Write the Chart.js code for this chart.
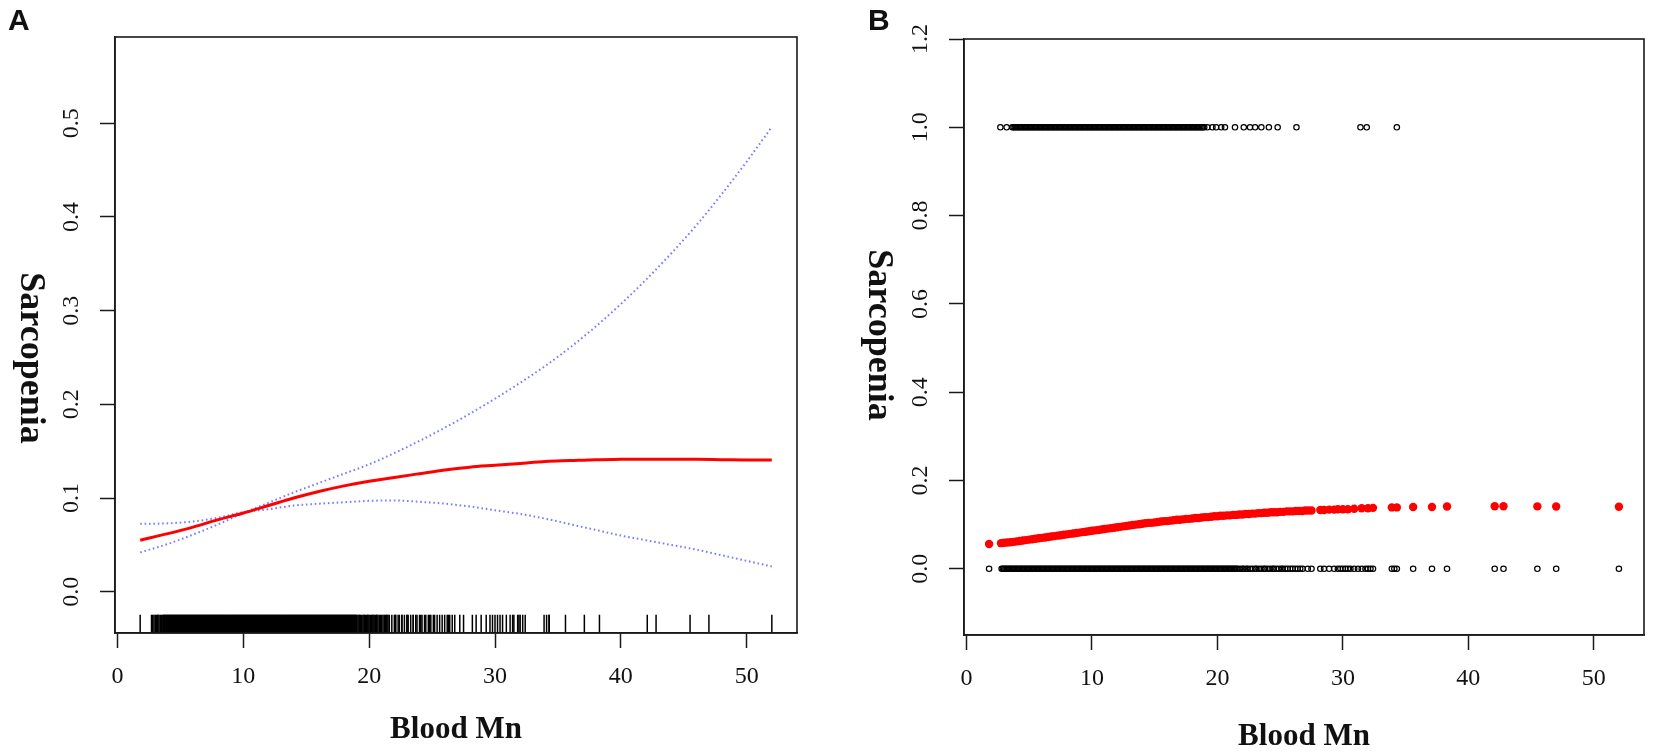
<!DOCTYPE html>
<html><head><meta charset="utf-8">
<script src="https://cdn.jsdelivr.net/npm/chart.js@4.4.1/dist/chart.umd.min.js"></script>
<style>
html,body{margin:0;padding:0;background:#fff;width:1653px;height:752px;overflow:hidden}
.p{position:absolute;top:0}
#wa{left:0;width:826px;height:752px}
#wb{left:826px;width:827px;height:752px}
</style>
</head><body>
<div class="p" id="wa"><canvas id="ca"></canvas></div>
<div class="p" id="wb"><canvas id="cb"></canvas></div>
<script>
// ---------- data ----------
const xTickValues = [0, 10, 20, 30, 40, 50];
const yTicksA = [0.0, 0.1, 0.2, 0.3, 0.4, 0.5];
const yTicksB = [0.0, 0.2, 0.4, 0.6, 0.8, 1.0, 1.2];

// Panel A: smooth curve fit with 95% CI
const curveX = [1.8, 4, 6, 8, 10, 12, 14, 16, 18, 20, 22, 24, 26, 28, 30, 32, 34, 36, 38, 40, 42, 44, 46, 48, 50, 52];
const fitY   = [0.055, 0.062, 0.069, 0.077, 0.084, 0.092, 0.100, 0.107, 0.113, 0.118, 0.122, 0.126, 0.130, 0.133, 0.135, 0.137, 0.139, 0.140, 0.141, 0.1413, 0.1415, 0.1415, 0.1413, 0.141, 0.1407, 0.1405];
const upperY = [0.042, 0.051, 0.061, 0.072, 0.084, 0.095, 0.106, 0.116, 0.126, 0.136, 0.148, 0.161, 0.175, 0.190, 0.206, 0.223, 0.241, 0.261, 0.283, 0.307, 0.333, 0.361, 0.391, 0.424, 0.459, 0.496];
const lowerY = [0.0725, 0.073, 0.075, 0.079, 0.085, 0.088, 0.092, 0.094, 0.0955, 0.097, 0.0975, 0.096, 0.094, 0.091, 0.087, 0.083, 0.078, 0.072, 0.066, 0.060, 0.055, 0.050, 0.045, 0.039, 0.033, 0.027];

// Observations of Blood Mn by outcome (0 = no sarcopenia, 1 = sarcopenia)
const mnOutcome0 = [1.8,
 2.8,2.9,
 3.0,3.1,3.2,3.3,3.4,3.5,3.6,3.7,3.8,3.9,
 4.0,4.1,4.2,4.3,4.4,4.5,4.6,4.7,4.8,4.9,
 5.0,5.1,5.2,5.3,5.4,5.5,5.6,5.7,5.8,5.9,
 6.0,6.1,6.2,6.3,6.4,6.5,6.6,6.7,6.8,6.9,
 7.0,7.1,7.2,7.3,7.4,7.5,7.6,7.7,7.8,7.9,
 8.0,8.1,8.2,8.3,8.4,8.5,8.6,8.7,8.8,8.9,
 9.0,9.1,9.2,9.3,9.4,9.5,9.6,9.7,9.8,9.9,
 10.0,10.1,10.2,10.3,10.4,10.5,10.6,10.7,10.8,10.9,
 11.0,11.1,11.2,11.3,11.4,11.5,11.6,11.7,11.8,11.9,
 12.0,12.1,12.2,12.3,12.4,12.5,12.6,12.7,12.8,12.9,
 13.0,13.1,13.2,13.3,13.4,13.5,13.6,13.7,13.8,13.9,
 14.0,14.1,14.2,14.3,14.4,14.5,14.6,14.7,14.8,14.9,
 15.0,15.1,15.2,15.3,15.4,15.5,15.6,15.7,15.8,15.9,
 16.0,16.1,16.2,16.3,16.4,16.5,16.6,16.7,16.8,16.9,
 17.0,17.1,17.2,17.3,17.4,17.5,17.6,17.7,17.8,17.9,
 18.0,18.1,18.2,18.3,18.4,18.5,18.6,18.7,18.8,18.9,
 19.0,19.1,19.2,19.3,19.4,19.5,19.6,19.7,19.8,19.9,
 20.0,20.1,20.2,20.3,20.4,20.5,20.6,20.7,20.8,20.9,
 21.0,21.1,21.2,21.3,21.4,21.5,21.6,
 21.8,22.0,22.1,22.3,22.4,22.6,22.8,23.0,23.1,23.3,23.5,23.7,23.8,24.0,24.2,24.4,24.5,24.7,24.9,
 25.1,25.2,25.4,25.6,25.8,26.0,26.2,26.4,26.6,
 26.8,27.2,27.5,28.2,28.5,28.9,29.3,29.6,29.8,30.0,30.2,30.4,30.6,30.9,31.2,31.5,31.8,32.0,32.2,32.4,
 33.9,34.1,34.3,35.6,37.1,38.3,42.1,42.8,45.5,47.0,52.0];
const mnOutcome1 = [2.7,3.2,
 3.65,3.75,3.85,3.95,
 4.05,4.15,4.25,4.35,4.45,4.55,4.65,4.75,4.85,4.95,
 5.05,5.15,5.25,5.35,5.45,5.55,5.65,5.75,5.85,5.95,
 6.05,6.15,6.25,6.35,6.45,6.55,6.65,6.75,6.85,6.95,
 7.05,7.15,7.25,7.35,7.45,7.55,7.65,7.75,7.85,7.95,
 8.05,8.15,8.25,8.35,8.45,8.55,8.65,8.75,8.85,8.95,
 9.05,9.15,9.25,9.35,9.45,9.55,9.65,9.75,9.85,9.95,
 10.05,10.15,10.25,10.35,10.45,10.55,10.65,10.75,10.85,10.95,
 11.05,11.15,11.25,11.35,11.45,11.55,11.65,11.75,11.85,11.95,
 12.05,12.15,12.25,12.35,12.45,12.55,12.65,12.75,12.85,12.95,
 13.05,13.15,13.25,13.35,13.45,13.55,13.65,13.75,13.85,13.95,
 14.05,14.15,14.25,14.35,14.45,14.55,14.65,14.75,14.85,14.95,
 15.05,15.15,15.25,15.35,15.45,15.55,15.65,15.75,15.85,15.95,
 16.05,16.15,16.25,16.35,16.45,16.55,16.65,16.75,16.85,16.95,
 17.05,17.15,17.25,17.35,17.45,17.55,17.65,17.75,17.85,17.95,
 18.05,18.15,18.25,18.35,18.45,18.55,18.65,18.75,18.85,18.95,
 19.2,19.6,19.9,20.3,20.6,21.4,22.1,22.6,23.0,23.5,24.1,24.8,26.3,31.4,31.9,34.3];

// Panel B: predicted probability at observed Blood Mn values
const predX = [1.8,2.75,
 3.0,3.25,3.5,3.75,4.0,4.25,4.5,4.75,5.0,5.25,5.5,5.75,6.0,6.25,6.5,6.75,7.0,7.25,7.5,7.75,
 8.0,8.25,8.5,8.75,9.0,9.25,9.5,9.75,10.0,10.25,10.5,10.75,11.0,11.25,11.5,11.75,12.0,12.25,12.5,12.75,
 13.0,13.25,13.5,13.75,14.0,14.25,14.5,14.75,15.0,15.25,15.5,15.75,16.0,16.25,16.5,16.75,17.0,17.25,17.5,17.75,
 18.0,18.25,18.5,18.75,19.0,19.25,19.5,19.75,20.0,20.25,20.5,20.75,21.0,21.25,21.5,21.75,22.0,22.25,22.5,22.75,
 23.0,23.25,23.5,23.75,24.0,24.25,24.5,24.75,25.0,25.25,25.5,25.75,26.0,26.25,26.5,26.75,27.0,27.25,27.5,
 28.2,28.5,28.9,29.3,29.6,30.0,30.4,30.9,31.5,32.0,32.4,33.9,34.3,35.6,37.1,38.3,42.1,42.8,45.5,47.0,52.0];
const predY = [0.056,0.058,
 0.059,0.0595,0.060,0.061,0.062,0.063,0.064,0.065,0.066,0.067,0.068,0.069,0.070,0.071,0.072,0.073,0.074,0.075,0.076,0.077,
 0.078,0.079,0.080,0.081,0.082,0.083,0.084,0.085,0.086,0.087,0.088,0.089,0.090,0.091,0.092,0.093,0.094,0.095,0.096,0.097,
 0.098,0.099,0.100,0.101,0.102,0.103,0.104,0.104,0.105,0.106,0.107,0.108,0.108,0.109,0.110,0.111,0.111,0.112,0.113,0.113,
 0.114,0.115,0.115,0.116,0.117,0.117,0.118,0.119,0.119,0.120,0.120,0.121,0.121,0.122,0.122,0.123,0.123,0.124,0.124,0.125,
 0.125,0.126,0.126,0.127,0.127,0.128,0.128,0.128,0.129,0.129,0.130,0.130,0.130,0.131,0.131,0.131,0.132,0.132,0.132,
 0.133,0.133,0.134,0.134,0.135,0.135,0.135,0.136,0.137,0.137,0.138,0.139,0.139,0.140,0.140,0.141,0.1415,0.1415,0.1413,0.1412,0.1405];

// ---------- helpers ----------
const SERIF = "'Liberation Serif', 'Times New Roman', serif";
const INK = '#1a1a1a';
const pts = (xs, ys) => xs.map((x, i) => ({x, y: ys[i]}));
const flat = (xs, y) => xs.map(x => ({x, y}));

const framePlugin = {
  id: 'rFrame',
  afterDraw(chart, args, o) {
    const {ctx, chartArea: a} = chart;
    ctx.save();
    ctx.strokeStyle = INK; ctx.lineWidth = 1.6;
    ctx.strokeRect(a.left, a.top, a.right - a.left, a.bottom - a.top);
    ctx.fillStyle = '#111';
    ctx.font = "bold 31px " + SERIF;
    ctx.textAlign = 'center'; ctx.textBaseline = 'alphabetic';
    ctx.fillText(o.xTitle, (a.left + a.right) / 2, o.xBase);
    ctx.save();
    ctx.translate(o.yX, o.yY);
    ctx.rotate(Math.PI / 2);
    ctx.font = "bold 36px " + SERIF;
    ctx.textBaseline = 'middle';
    ctx.fillText(o.yTitle, 0, 0);
    ctx.restore();
    ctx.font = "bold 30px 'Liberation Sans', Arial, sans-serif";
    ctx.textAlign = 'left'; ctx.textBaseline = 'alphabetic';
    ctx.fillText(o.panel, o.pX, 30);
    ctx.restore();
  }
};

function xScale(h) {
  return {
    type: 'linear', min: -0.2, max: 54.0,
    afterBuildTicks: s => { s.ticks = xTickValues.map(v => ({value: v})); },
    afterFit: s => { s.height = h; },
    grid: {drawOnChartArea: false, drawTicks: true, tickLength: 15, tickWidth: 1.5, tickColor: INK},
    border: {display: true, color: INK, width: 1.5},
    ticks: {font: {family: SERIF, size: 24}, color: '#111', padding: 14, maxRotation: 0, minRotation: 0, autoSkip: false,
            callback: v => String(v)}
  };
}
function yScale(min, max, ticks, w) {
  return {
    type: 'linear', min, max,
    afterBuildTicks: s => { s.ticks = ticks.map(v => ({value: v})); },
    afterFit: s => { s.width = w; },
    grid: {drawOnChartArea: false, drawTicks: true, tickLength: 15, tickWidth: 1.5, tickColor: INK},
    border: {display: true, color: INK, width: 1.5},
    ticks: {font: {family: SERIF, size: 24}, color: '#111', padding: 13, minRotation: 90, maxRotation: 90,
            crossAlign: 'center', autoSkip: false, callback: v => v.toFixed(1)}
  };
}
const common = {responsive: true, maintainAspectRatio: false, animation: false, events: []};

// ---------- Panel A ----------
const RUG_Y = -0.0341;
new Chart(document.getElementById('ca'), {
  type: 'scatter',
  data: {datasets: [
    {type: 'line', data: pts(curveX, fitY), borderColor: '#ff0000', borderWidth: 3, pointRadius: 0,
     cubicInterpolationMode: 'monotone', fill: false, order: 0},
    {type: 'line', data: pts(curveX, upperY), borderColor: 'rgba(90,90,255,0.8)', borderWidth: 2, borderDash: [1.6, 2.8],
     pointRadius: 0, cubicInterpolationMode: 'monotone', fill: false, order: 1},
    {type: 'line', data: pts(curveX, lowerY), borderColor: 'rgba(90,90,255,0.8)', borderWidth: 2, borderDash: [1.6, 2.8],
     pointRadius: 0, cubicInterpolationMode: 'monotone', fill: false, order: 1},
    {data: flat(mnOutcome0.concat(mnOutcome1), RUG_Y), pointStyle: 'line', rotation: 90, radius: 9,
     borderColor: '#000', borderWidth: 1.5, order: 2}
  ]},
  options: Object.assign({}, common, {
    layout: {padding: {left: 0, right: 29, top: 37, bottom: 0}},
    scales: {x: xScale(119), y: yScale(-0.044, 0.592, yTicksA, 115)},
    plugins: {legend: {display: false}, tooltip: {enabled: false},
      rFrame: {xTitle: 'Blood Mn', xBase: 738, yTitle: 'Sarcopenia', yX: 30, yY: 358, panel: 'A', pX: 8}}
  }),
  plugins: [framePlugin]
});

// ---------- Panel B ----------
new Chart(document.getElementById('cb'), {
  type: 'scatter',
  data: {datasets: [
    {data: flat(mnOutcome1, 1), pointStyle: 'circle', radius: 2.7, borderWidth: 1.2,
     borderColor: '#000', backgroundColor: 'rgba(0,0,0,0)', order: 1},
    {data: flat(mnOutcome0, 0), pointStyle: 'circle', radius: 2.7, borderWidth: 1.2,
     borderColor: '#000', backgroundColor: 'rgba(0,0,0,0)', order: 1},
    {data: pts(predX, predY), pointStyle: 'circle', radius: 4.2, borderWidth: 0,
     backgroundColor: '#ff0000', borderColor: '#ff0000', order: 0}
  ]},
  options: Object.assign({}, common, {
    layout: {padding: {left: 0, right: 9, top: 39, bottom: 0}},
    scales: {x: xScale(117), y: yScale(-0.15, 1.2, yTicksB, 138)},
    plugins: {legend: {display: false}, tooltip: {enabled: false},
      rFrame: {xTitle: 'Blood Mn', xBase: 745, yTitle: 'Sarcopenia', yX: 52, yY: 335, panel: 'B', pX: 42}}
  }),
  plugins: [framePlugin]
});
</script>
</body></html>
